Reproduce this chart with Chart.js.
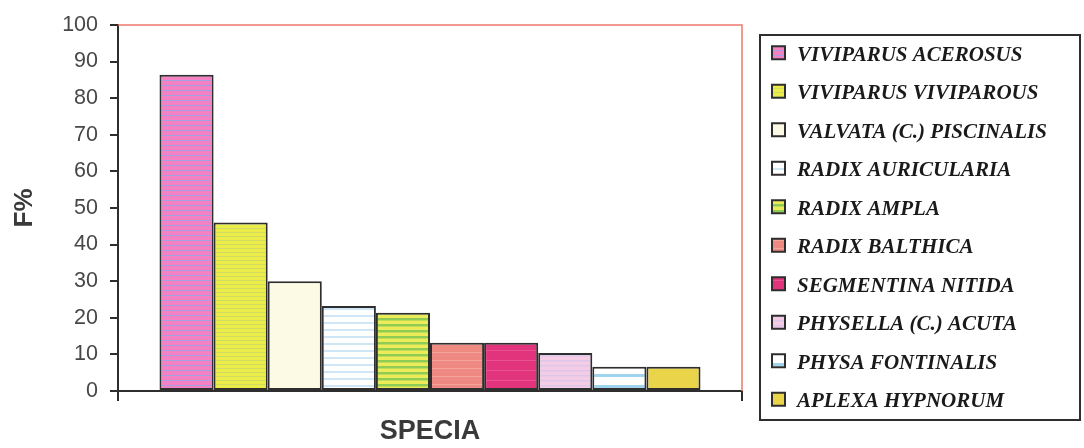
<!DOCTYPE html>
<html>
<head>
<meta charset="utf-8">
<script src="https://cdn.jsdelivr.net/npm/chart.js@4/dist/chart.umd.min.js"></script>
<style>
  html, body { margin: 0; padding: 0; background: #ffffff; }
  #wrap { width: 1084px; height: 448px; position: relative; }
</style>
</head>
<body>
<div id="wrap"><canvas id="chart" width="1084" height="448"></canvas></div>
<script>
// Gastropod species and their frequency of occurrence (F%)
const species = [
  'VIVIPARUS ACEROSUS',
  'VIVIPARUS VIVIPAROUS',
  'VALVATA (C.) PISCINALIS',
  'RADIX AURICULARIA',
  'RADIX AMPLA',
  'RADIX BALTHICA',
  'SEGMENTINA NITIDA',
  'PHYSELLA (C.) ACUTA',
  'PHYSA FONTINALIS',
  'APLEXA HYPNORUM'
];
const frequency = [86.4, 46, 30, 23.2, 21.4, 13.2, 13.2, 10.4, 6.6, 6.6];
const categories = [''];
const yTickValues = [0, 10, 20, 30, 40, 50, 60, 70, 80, 90, 100];

// Fill styles: base colour plus horizontal stripe colour / period / thickness
const fillStyles = [
  { base: '#f482c2', stripe: '#a49ee2', period: 5, thick: 1 },
  { base: '#ecec48', stripe: '#d0dc66', period: 4, thick: 1 },
  { base: '#fcfae4', stripe: '#fcfae4', period: 4, thick: 0 },
  { base: '#ffffff', stripe: '#cfe6f6', period: 7, thick: 2 },
  { base: '#ecec58', stripe: '#8fcc56', period: 6, thick: 2.5 },
  { base: '#ef8a82', stripe: '#f3a49c', period: 8, thick: 1 },
  { base: '#e2347d', stripe: '#e8508e', period: 10, thick: 1 },
  { base: '#f4cce6', stripe: '#dcc6ea', period: 5, thick: 1.5 },
  { base: '#ffffff', stripe: '#9fd3ee', period: 11, thick: 3 },
  { base: '#ead44a', stripe: '#ead44a', period: 4, thick: 0 }
];

function makeFill(s) {
  const c = document.createElement('canvas');
  c.width = 8; c.height = s.period;
  const g = c.getContext('2d');
  g.fillStyle = s.base;
  g.fillRect(0, 0, c.width, c.height);
  if (s.thick > 0) {
    g.fillStyle = s.stripe;
    g.fillRect(0, 0, c.width, s.thick);
  }
  return g.createPattern(c, 'repeat');
}
const fills = fillStyles.map(makeFill);

const AXIS = '#2e2e2e';
const TEXT = '#3a3a3a';

// Thin red frame on the top and right of the plot area
const plotFrame = {
  id: 'plotFrame',
  afterDatasetsDraw(chart) {
    const { ctx, chartArea: a } = chart;
    ctx.save();
    ctx.strokeStyle = '#f07a6c';
    ctx.lineWidth = 1.5;
    ctx.beginPath();
    ctx.moveTo(a.left, a.top);
    ctx.lineTo(a.right, a.top);
    ctx.lineTo(a.right, a.bottom);
    ctx.stroke();
    ctx.restore();
  }
};

// Boxed legend at the right, one row per species
const speciesLegend = {
  id: 'speciesLegend',
  afterDraw(chart) {
    const { ctx } = chart;
    const box = { left: 760, top: 35, right: 1080, bottom: 420 };
    const sets = chart.data.datasets;
    const row = (box.bottom - box.top) / sets.length;
    ctx.save();
    ctx.strokeStyle = AXIS;
    ctx.lineWidth = 2;
    ctx.strokeRect(box.left, box.top, box.right - box.left, box.bottom - box.top);
    ctx.font = 'italic bold 21px "Liberation Serif", "DejaVu Serif", serif';
    ctx.textBaseline = 'middle';
    ctx.textAlign = 'left';
    sets.forEach((ds, i) => {
      const cy = box.top + row * (i + 0.5) - 1;
      ctx.fillStyle = ds.backgroundColor;
      ctx.fillRect(772, cy - 7, 13, 13);
      ctx.strokeStyle = AXIS;
      ctx.lineWidth = 2;
      ctx.strokeRect(772, cy - 7, 13, 13);
      ctx.fillStyle = '#1a1a1a';
      ctx.fillText(ds.label, 797, cy + 2);
    });
    ctx.restore();
  }
};

const datasets = species.map((name, i) => ({
  label: name,
  data: [frequency[i]],
  backgroundColor: fills[i],
  borderColor: AXIS,
  borderWidth: 2,
  borderSkipped: false,
  barPercentage: 1.0,
  categoryPercentage: 0.867
}));

new Chart(document.getElementById('chart'), {
  type: 'bar',
  data: { labels: categories, datasets },
  plugins: [plotFrame, speciesLegend],
  options: {
    responsive: false,
    animation: false,
    layout: { padding: { top: 23, right: 342, bottom: 0, left: 0 } },
    plugins: {
      legend: { display: false },
      tooltip: { enabled: false }
    },
    scales: {
      x: {
        type: 'category',
        offset: true,
        grid: {
          offset: true,
          drawOnChartArea: false,
          drawTicks: true,
          tickLength: 10,
          color: AXIS,
          lineWidth: 2
        },
        border: { display: true, color: AXIS, width: 2 },
        ticks: { display: false },
        title: {
          display: true,
          text: 'SPECIA',
          color: TEXT,
          font: { family: '"Liberation Sans", Arial, sans-serif', size: 27, weight: 'bold' },
          padding: { top: 0, bottom: 0 }
        },
        afterFit(scale) { scale.height = 57; }
      },
      y: {
        min: 0,
        max: 100,
        afterBuildTicks(scale) { scale.ticks = yTickValues.map(v => ({ value: v })); },
        grid: {
          drawOnChartArea: false,
          drawTicks: true,
          tickLength: 8,
          color: AXIS,
          lineWidth: 2
        },
        border: { display: true, color: AXIS, width: 2 },
        ticks: {
          color: '#474747',
          padding: 12,
          font: { family: '"Liberation Sans", Arial, sans-serif', size: 21.5 }
        },
        title: {
          display: true,
          text: 'F%',
          color: TEXT,
          font: { family: '"Liberation Sans", Arial, sans-serif', size: 26, weight: 'bold' },
          padding: { top: 9, bottom: 0 }
        },
        afterFit(scale) { scale.width = 118; }
      }
    }
  }
});
</script>
</body>
</html>
